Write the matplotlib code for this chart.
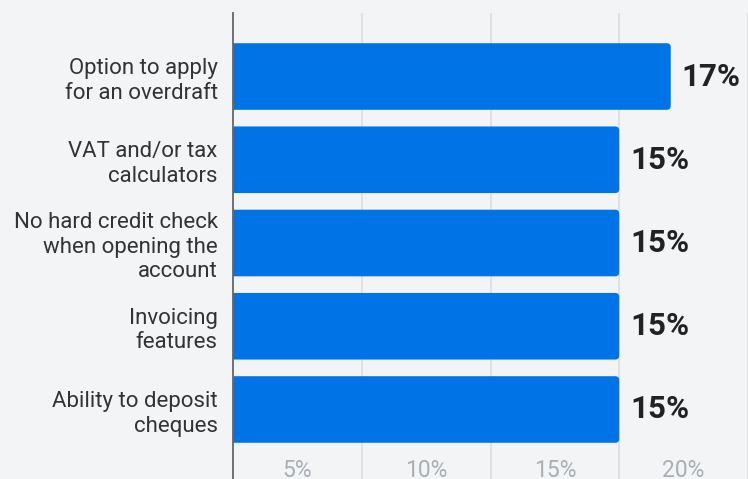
import matplotlib.pyplot as plt
from matplotlib.patches import FancyBboxPatch

plt.rcParams['font.family'] = ['Roboto', 'DejaVu Sans']

categories = [
    "Option to apply\nfor an overdraft",
    "VAT and/or tax\ncalculators",
    "No hard credit check\nwhen opening the\naccount",
    "Invoicing\nfeatures",
    "Ability to deposit\ncheques",
]
values = [17, 15, 15, 15, 15]
grid_ticks = [5, 10, 15, 20]
tick_labels = ["5%", "10%", "15%", "20%"]

bg = '#f3f4f6'
fig = plt.figure(figsize=(7.48, 4.79), dpi=100, facecolor=bg)
ax = fig.add_axes([233 / 748, 0.0, 515 / 748, 1 - 13 / 479])
ax.set_facecolor(bg)

pos = list(range(len(categories)))
bars = ax.barh(pos, values, height=0.8, color='#0073e6', zorder=3)

ax.set_xlim(0, 20.0)
ax.set_ylim(4.835, -0.763)

# swap plain bars for ones with rounded right corners
for b in bars:
    x, y, w, h = b.get_x(), b.get_y(), b.get_width(), b.get_height()
    b.set_visible(False)
    rb = FancyBboxPatch((x - 0.5, y), w + 0.5, h,
                        boxstyle='round,pad=0,rounding_size=0.16',
                        mutation_aspect=0.31, fc='#0073e6', ec='none',
                        zorder=3, clip_on=True)
    ax.add_patch(rb)
    rb.set_clip_path(ax.patch)

# gridlines
for g in grid_ticks:
    ax.axvline(g, color='#dcdee2', lw=1.2, zorder=1)

# x labels sit between gridlines (cut by the bottom edge like the original)
for g, lab in zip(grid_ticks, tick_labels):
    ax.text(g - 2.5, 4.73, lab, ha='center', va='center', fontsize=16.5,
            color='#a9afb7', zorder=2)

# value labels
for p, v in zip(pos, values):
    ax.annotate(f"{v}%", (v, p), xytext=(8, 0), textcoords='offset points',
                ha='left', va='center', fontsize=22.5, fontweight='bold',
                color='#222222')

ax.set_yticks(pos)
ax.set_yticklabels(categories, fontsize=16, color='#333333', linespacing=1.22)
ax.tick_params(axis='y', length=0, pad=11)
ax.set_xticks([])

for s in ['top', 'right', 'bottom']:
    ax.spines[s].set_visible(False)
ax.spines['left'].set_color('#666666')
ax.spines['left'].set_linewidth(1.3)
ax.spines['left'].set_zorder(4)

fig.savefig('out.png', dpi=100, facecolor=bg)
